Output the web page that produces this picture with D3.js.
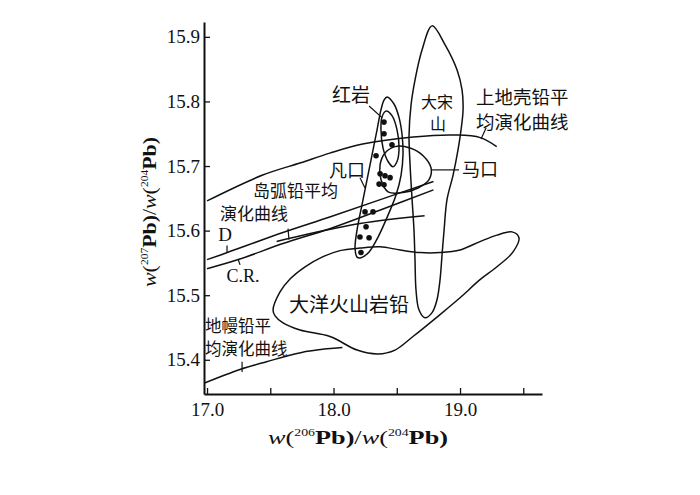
<!DOCTYPE html>
<html>
<head>
<meta charset="utf-8">
<script src="https://cdn.jsdelivr.net/npm/d3@7"></script>
<style>
  body { margin: 0; background: #fff; }
  svg text { fill: #111; }
</style>
</head>
<body>
<div id="chart"></div>
<script>
// tick values
const xTicks = [17.0, 17.5, 18.0, 18.5, 19.0, 19.5];
const xTickLabels = ['17.0', '', '18.0', '', '19.0', ''];
const yTicks = [15.4, 15.5, 15.6, 15.7, 15.8, 15.9];
const yTickLabels = ['15.4', '15.5', '15.6', '15.7', '15.8', '15.9'];

// evolution curves, [206Pb/204Pb, 207Pb/204Pb]
const upperCrust = [[17.00, 15.646], [17.44, 15.686], [17.74, 15.705], [17.97, 15.720], [18.23, 15.734], [18.63, 15.745], [18.96, 15.748], [19.16, 15.744], [19.29, 15.730]];
const curveD = [[17.00, 15.555], [17.16, 15.566], [17.60, 15.597], [17.97, 15.621], [18.37, 15.648], [18.79, 15.676]];
const curveCR = [[17.00, 15.541], [17.26, 15.556], [17.60, 15.580], [17.97, 15.603], [18.37, 15.632], [18.79, 15.663]];
const islandArc = [[17.55, 15.583], [17.74, 15.592], [18.21, 15.611], [18.72, 15.623]];
const mantle = [[16.98, 15.364], [17.26, 15.385], [17.47, 15.397], [17.74, 15.411], [17.95, 15.417], [18.07, 15.419]];

// fields (closed outlines)
const dasongshan = [[18.779, 15.917], [18.881, 15.888], [18.976, 15.849], [19.016, 15.818], [19.024, 15.787], [19.008, 15.756], [18.984, 15.725], [18.945, 15.686], [18.897, 15.648], [18.874, 15.601], [18.858, 15.563], [18.842, 15.524], [18.818, 15.493], [18.779, 15.473], [18.723, 15.465], [18.676, 15.477], [18.652, 15.508], [18.644, 15.555], [18.636, 15.601], [18.621, 15.648], [18.605, 15.702], [18.597, 15.748], [18.613, 15.795], [18.644, 15.833], [18.700, 15.880]];
const oceanic = [[17.522, 15.477], [17.577, 15.505], [17.656, 15.525], [17.775, 15.544], [17.909, 15.559], [18.051, 15.569], [18.209, 15.573], [18.368, 15.575], [18.526, 15.570], [18.684, 15.566], [18.842, 15.566], [19.000, 15.570], [19.158, 15.583], [19.292, 15.593], [19.411, 15.598], [19.466, 15.589], [19.419, 15.567], [19.292, 15.544], [19.158, 15.524], [19.000, 15.496], [18.842, 15.470], [18.628, 15.436], [18.486, 15.415], [18.352, 15.409], [18.186, 15.415], [17.972, 15.436], [17.735, 15.446], [17.601, 15.457], [17.538, 15.468]];
const makou = [[18.368, 15.702], [18.407, 15.720], [18.486, 15.730], [18.605, 15.728], [18.708, 15.716], [18.771, 15.697], [18.755, 15.679], [18.668, 15.666], [18.549, 15.659], [18.431, 15.660], [18.375, 15.679]];
const fankou = [[18.423, 15.807], [18.478, 15.796], [18.518, 15.775], [18.542, 15.748], [18.549, 15.717], [18.534, 15.686], [18.494, 15.655], [18.431, 15.624], [18.352, 15.590], [18.281, 15.567], [18.217, 15.558], [18.186, 15.559], [18.170, 15.573], [18.186, 15.601], [18.225, 15.640], [18.265, 15.679], [18.304, 15.717], [18.344, 15.756], [18.375, 15.787], [18.399, 15.802]];
const hongyan = [[18.415, 15.785], [18.462, 15.778], [18.502, 15.756], [18.518, 15.728], [18.502, 15.707], [18.470, 15.699], [18.431, 15.707], [18.391, 15.728], [18.375, 15.756], [18.383, 15.776]];

// samples
const samples = [[18.399, 15.768], [18.399, 15.750], [18.462, 15.733], [18.336, 15.716], [18.368, 15.688], [18.407, 15.685], [18.447, 15.682], [18.360, 15.672], [18.399, 15.671], [18.249, 15.629], [18.312, 15.629], [18.257, 15.606], [18.209, 15.590], [18.281, 15.589], [18.217, 15.566]];

// leader lines
const leaders = [
  [[18.281, 15.793], [18.383, 15.775]],
  [[18.209, 15.682], [18.249, 15.666]],
  [[18.779, 15.694], [18.992, 15.694]],
  [[19.206, 15.759], [19.166, 15.742]],
  [[17.640, 15.603], [17.648, 15.586]],
  [[17.158, 15.577], [17.158, 15.566]],
  [[17.245, 15.556], [17.261, 15.547]],
  [[17.277, 15.397], [17.277, 15.381]]
];

const labels = [
  { t: '红岩', x: 18.138, y: 15.812, a: 'middle', s: 19 },
  { t: '大宋', x: 18.818, y: 15.800, a: 'middle', s: 16 },
  { t: '山', x: 18.826, y: 15.766, a: 'middle', s: 16 },
  { t: '上地壳铅平', x: 19.126, y: 15.808, a: 'start', s: 18.5 },
  { t: '均演化曲线', x: 19.126, y: 15.770, a: 'start', s: 18.5 },
  { t: '马口', x: 19.016, y: 15.697, a: 'start', s: 18 },
  { t: '凡口', x: 18.107, y: 15.696, a: 'middle', s: 18 },
  { t: '岛弧铅平均', x: 17.364, y: 15.663, a: 'start', s: 17 },
  { t: '演化曲线', x: 17.103, y: 15.628, a: 'start', s: 17 },
  { t: 'D', x: 17.142, y: 15.594, a: 'middle', s: 19, serif: true },
  { t: 'C.R.', x: 17.285, y: 15.530, a: 'middle', s: 18, serif: true },
  { t: '大洋火山岩铅', x: 18.123, y: 15.487, a: 'middle', s: 20 },
  { t: '地幔铅平', x: 16.984, y: 15.454, a: 'start', s: 16.5 },
  { t: '均演化曲线', x: 16.984, y: 15.419, a: 'start', s: 16.5 }
];

const width = 700, height = 495;
const svg = d3.select('#chart').append('svg')
  .attr('width', width)
  .attr('height', height);

const x = d3.scaleLinear().domain([16.976, 19.648]).range([204, 542]);
const y = d3.scaleLinear().domain([15.347, 15.923]).range([394, 22]);

const serif = '"Liberation Serif", "Times New Roman", serif';
const cjk = '"Noto Sans CJK SC", sans-serif';

const line = d3.line().x(d => x(d[0])).y(d => y(d[1])).curve(d3.curveCatmullRom);
const closed = d3.line().x(d => x(d[0])).y(d => y(d[1])).curve(d3.curveCatmullRomClosed);
const straight = d3.line().x(d => x(d[0])).y(d => y(d[1]));

// fields
[dasongshan, oceanic, makou, fankou, hongyan].forEach(f => {
  svg.append('path').attr('d', closed(f))
    .attr('fill', 'none').attr('stroke', '#111').attr('stroke-width', 1.5);
});

// curves
[upperCrust, curveD, curveCR, islandArc, mantle].forEach(c => {
  svg.append('path').attr('d', line(c))
    .attr('fill', 'none').attr('stroke', '#111').attr('stroke-width', 1.5);
});

leaders.forEach(l => {
  svg.append('path').attr('d', straight(l))
    .attr('fill', 'none').attr('stroke', '#111').attr('stroke-width', 1.2);
});

svg.selectAll('.pt').data(samples).enter().append('circle')
  .attr('class', 'pt')
  .attr('cx', d => x(d[0])).attr('cy', d => y(d[1]))
  .attr('r', 2.8).attr('fill', '#111');

// axes
const xAxis = svg.append('g').attr('transform', `translate(0,${y(15.347)})`)
  .call(d3.axisBottom(x).tickValues(xTicks).tickSizeInner(-6).tickSizeOuter(0).tickPadding(9)
    .tickFormat((d, i) => xTickLabels[i]));
const yAxis = svg.append('g').attr('transform', `translate(${x(16.976)},0)`)
  .call(d3.axisLeft(y).tickValues(yTicks).tickSizeInner(-6).tickSizeOuter(0).tickPadding(4)
    .tickFormat((d, i) => yTickLabels[i]));

[xAxis, yAxis].forEach(g => {
  g.select('.domain').attr('stroke', '#111').attr('stroke-width', 2);
  g.selectAll('.tick line').attr('stroke', '#111').attr('stroke-width', 1.3);
  g.selectAll('.tick text').attr('font-family', serif).attr('font-size', 19).attr('fill', '#111');
});

// labels
labels.forEach(l => {
  svg.append('text')
    .attr('x', x(l.x)).attr('y', y(l.y))
    .attr('text-anchor', l.a)
    .attr('dominant-baseline', 'central')
    .attr('font-family', l.serif ? serif : cjk)
    .attr('font-size', l.s)
    .text(l.t);
});

// axis titles
function title(g, num1, num2, len) {
  const t = g.append('text').attr('font-family', serif).attr('font-size', 19)
    .attr('text-anchor', 'middle')
    .attr('textLength', len).attr('lengthAdjust', 'spacingAndGlyphs');
  t.append('tspan').attr('font-style', 'italic').text('w');
  t.append('tspan').text('(');
  t.append('tspan').attr('font-size', 10).attr('dy', -8).text(num1);
  t.append('tspan').attr('font-weight', 'bold').attr('dy', 8).text('Pb');
  t.append('tspan').attr('font-weight', 'bold').text(')');
  t.append('tspan').text('/');
  t.append('tspan').attr('font-style', 'italic').text('w');
  t.append('tspan').text('(');
  t.append('tspan').attr('font-size', 10).attr('dy', -8).text(num2);
  t.append('tspan').attr('font-weight', 'bold').attr('dy', 8).text('Pb');
  t.append('tspan').attr('font-weight', 'bold').text(')');
  return t;
}
title(svg.append('g').attr('transform', 'translate(358,444)'), '206', '204', 180);
title(svg.append('g').attr('transform', 'translate(156,212) rotate(-90)'), '207', '204', 150);
</script>
</body>
</html>
